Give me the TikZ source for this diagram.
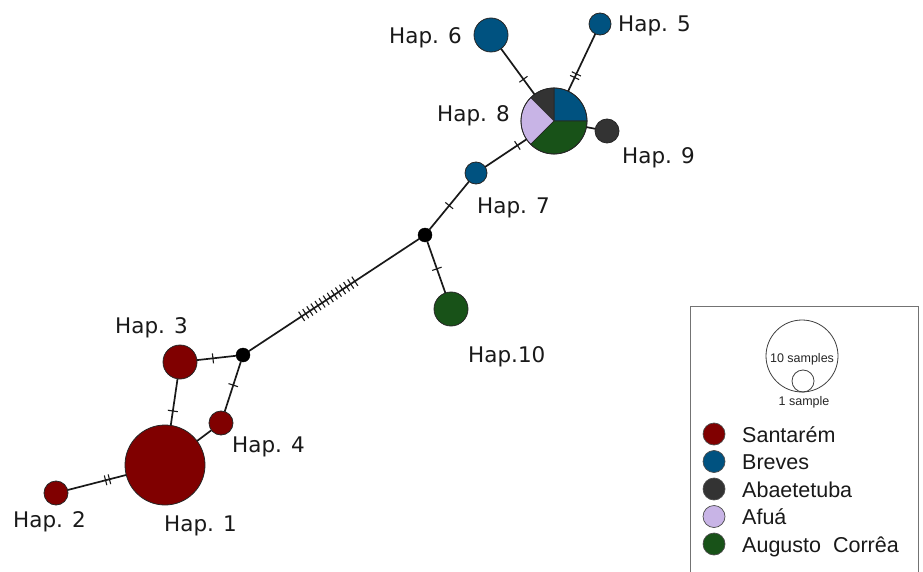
\documentclass[tikz,border=0pt]{standalone}
\usepackage{fontspec}
\setmainfont{DejaVu Sans}
\newfontfamily\legfont{Liberation Sans}
\usetikzlibrary{decorations.markings}
\definecolor{santarem}{RGB}{128,0,0}
\definecolor{breves}{RGB}{0,82,128}
\definecolor{abaete}{RGB}{51,51,51}
\definecolor{afua}{RGB}{200,180,230}
\definecolor{augusto}{RGB}{24,82,24}
\tikzset{
  hap/.style={circle, draw=black!85, line width=0.8pt, inner sep=0pt, outer sep=0pt, minimum size=#1},
  median/.style={circle, fill=black, draw=black, inner sep=0pt, outer sep=0pt, minimum size=14pt},
  edge/.style={line width=1.7pt, black!90},
  onetick/.style={postaction={decorate, decoration={markings,
      mark=at position #1 with {\draw[line width=1.1pt] (0,-5pt) -- (0,5pt);}}}},
  twotick/.style={postaction={decorate, decoration={markings,
      mark=at position #1 with {\draw[line width=1.1pt] (-2pt,-5pt) -- (-2pt,5pt) (2pt,-5pt) -- (2pt,5pt);}}}},
  manytick/.style={postaction={decorate, decoration={markings,
      mark=between positions 0.31 and 0.64 step 4.9pt with {\draw[line width=1.1pt] (0,-5.5pt) -- (0,5.5pt);}}}},
  lab/.style={font=\fontsize{21.5}{25}\selectfont, text=black!90, inner sep=0pt},
  legtext/.style={font=\legfont\fontsize{21.5}{24}\selectfont, text=black!90, inner sep=0pt, anchor=base west},
  legdot/.style={circle, draw=black!70, line width=0.7pt, inner sep=0pt, minimum size=22pt}
}
\begin{document}
\begin{tikzpicture}[x=1pt,y=-1pt]
\useasboundingbox (0,0) rectangle (923,572);
\fill[white] (0,0) rectangle (923,572);

% nodes
\node[hap=80pt, fill=santarem] (h1) at (165,465) {};
\node[hap=24pt, fill=santarem] (h2) at (56,493) {};
\node[hap=34pt, fill=santarem] (h3) at (180,362) {};
\node[hap=24pt, fill=santarem] (h4) at (221,423) {};
\node[median] (b1) at (243,355) {};
\node[median] (b2) at (425,235) {};
\node[hap=34pt, fill=augusto] (h10) at (451,309) {};
\node[hap=22pt, fill=breves] (h7) at (476,173) {};
\node[circle, inner sep=0pt, outer sep=0pt, minimum size=66pt] (h8) at (554,121) {};
\node[hap=34pt, fill=breves] (h6) at (491,35) {};
\node[hap=22pt, fill=breves] (h5) at (600,24) {};
\node[hap=24pt, fill=abaete] (h9) at (607,131) {};

% pie for Hap. 8
\filldraw[fill=breves, draw=black!85, line width=0.6pt] (h8.center) -- ++(0:33pt) arc[start angle=0, end angle=90, radius=33pt] -- cycle;
\filldraw[fill=abaete, draw=black!85, line width=0.6pt] (h8.center) -- ++(90:33pt) arc[start angle=90, end angle=135, radius=33pt] -- cycle;
\filldraw[fill=afua, draw=black!85, line width=0.6pt] (h8.center) -- ++(135:33pt) arc[start angle=135, end angle=225, radius=33pt] -- cycle;
\filldraw[fill=augusto, draw=black!85, line width=0.6pt] (h8.center) -- ++(225:33pt) arc[start angle=225, end angle=360, radius=33pt] -- cycle;
\draw[black!85, line width=0.8pt] (h8.center) circle[radius=33pt];

% edges
\draw[edge, twotick=0.32] (h1) -- (h2);
\draw[edge, onetick=0.69] (h3) -- (h1);
\draw[edge] (h1) -- (h4);
\draw[edge, onetick=0.41] (h3) -- (b1);
\draw[edge, onetick=0.53] (h4) -- (b1);
\draw[edge, manytick] (b1) -- (b2);
\draw[edge, onetick=0.53] (b2) -- (h10);
\draw[edge, onetick=0.50] (b2) -- (h7);
\draw[edge, onetick=0.78] (h7) -- (h8);
\draw[edge, onetick=0.67] (h6) -- (h8);
\draw[edge, twotick=0.73] (h5) -- (h8);
\draw[edge] (h8) -- (h9);

% labels
\node[lab, anchor=base east] (l6) at (462,44) {Hap. 6};
\node[lab, anchor=base west] (l5) at (618,32) {Hap. 5};
\node[lab, anchor=base east] (l8) at (510,122) {Hap. 8};
\node[lab, anchor=base west] (l9) at (622,164) {Hap. 9};
\node[lab, anchor=base west] (l7) at (477,213) {Hap. 7};
\node[lab, anchor=base west] (l10) at (468,362) {Hap.10};
\node[lab, anchor=base west] (l3) at (115,333) {Hap. 3};
\node[lab, anchor=base west] (l4) at (232,452) {Hap. 4};
\node[lab, anchor=base west] (l2) at (13,527) {Hap. 2};
\node[lab, anchor=base west] (l1) at (164,531) {Hap. 1};

% legend
\draw[black!55, line width=1pt] (690,572) -- (690,306) -- (918,306) -- (918,572);
\node[circle, draw=black!75, line width=0.8pt, inner sep=0pt, minimum size=72pt] (big) at (802,356) {};
\node[circle, draw=black!75, line width=0.8pt, inner sep=0pt, minimum size=22pt] (small) at (803,381) {};
\node[font=\legfont\fontsize{12.5}{14}\selectfont, text=black!85, inner sep=0pt, anchor=base] (t10) at (802,362) {10 samples};
\node[font=\legfont\fontsize{12.5}{14}\selectfont, text=black!85, inner sep=0pt, anchor=base] (t1) at (804,405) {1 sample};

\node[legdot, fill=santarem] (d1) at (714,434) {};
\node[legdot, fill=breves] (d2) at (714,461.5) {};
\node[legdot, fill=abaete] (d3) at (714,489) {};
\node[legdot, fill=afua] (d4) at (714,516.5) {};
\node[legdot, fill=augusto] (d5) at (714,544) {};
\node[legtext] (e1) at (742,442) {Santarém};
\node[legtext] (e2) at (742,469.5) {Breves};
\node[legtext] (e3) at (742,497) {Abaetetuba};
\node[legtext] (e4) at (742,524.5) {Afuá};
\node[legtext] (e5) at (742,552) {Augusto\ \ Corrêa};
\end{tikzpicture}
\end{document}
